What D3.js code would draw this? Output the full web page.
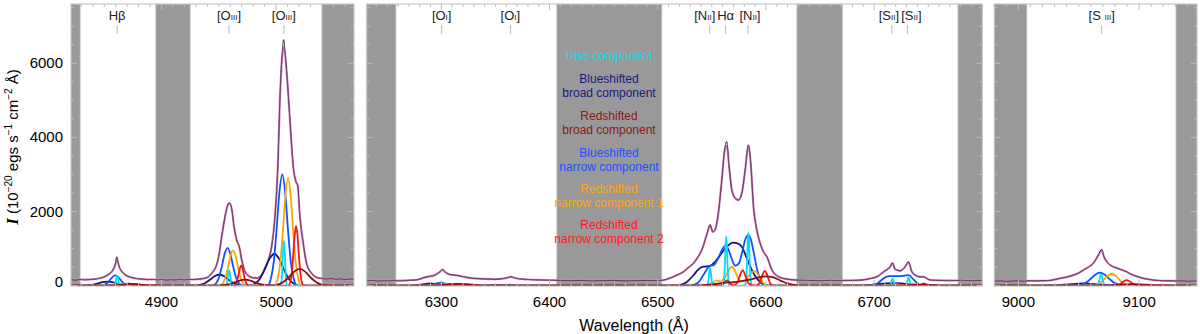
<!DOCTYPE html>
<html><head><meta charset="utf-8">
<script src="https://cdn.jsdelivr.net/npm/d3@7"></script>
<style>body{margin:0;background:#fff} svg{display:block} text{font-family:"Liberation Sans",Arial,Helvetica,sans-serif}</style>
</head><body>
<svg id="c" width="1200" height="334"></svg>
<script>
// ---------------- DATA ----------------
const yTickValues = [0, 2000, 4000, 6000];
const xTicks1 = [4900, 5000];
const xTicks2 = [6300, 6400, 6500, 6600, 6700];
const xTicks3 = [9000, 9100];

const masks1 = [[4821, 4829], [4895, 4925], [5040, 5068]];
const masks2 = [[6231, 6258], [6406.7, 6503.8], [6628.6, 6670.8], [6777.5, 6800]];
const masks3 = [[8980, 9007], [9130.6, 9148]];

const lineWaves1 = [4861.3, 4958.9, 5006.8];
const lineNames1 = [["Hβ", ""], ["[O", "III"], ["[O", "III"]];
const lineWaves2 = [6300.3, 6363.8, 6548.1, 6562.8, 6583.4, 6716.4, 6730.8];
const lineNames2 = [["[O", "I"], ["[O", "I"], ["[N", "II"], ["Hα", ""], ["[N", "II"], ["[S", "II"], ["[S", "II"]];
const lineWaves3 = [9069.0];
const lineNames3 = [["[S ", "III"]];

const legendLabels = [
  ["Disc component"],
  ["Blueshifted", "broad component"],
  ["Redshifted", "broad component"],
  ["Blueshifted", "narrow component"],
  ["Redshifted", "narrow component 1"],
  ["Redshifted", "narrow component 2"]
];

// Panel 1 (Hβ / [OIII])
const obs1 = [[4821,160],[4825,150],[4829,166],[4833,154],[4837,161],[4840,170],[4843,180],[4846,200],[4849,225],[4852,270],[4854,310],[4856,360],[4857.5,420],[4859,520],[4860,620],[4861,780],[4862,640],[4863,520],[4864.5,420],[4866,360],[4868,300],[4870,260],[4873,230],[4876,205],[4880,185],[4884,175],[4888,160],[4892,170],[4896,155],[4900,165],[4904,150],[4908,161],[4912,154],[4916,166],[4920,158],[4924,170],[4928,164],[4932,176],[4936,190],[4940,220],[4942.3,280],[4945,380],[4948,554],[4950,800],[4952.5,1320],[4955.4,1860],[4957.5,2150],[4959.2,2240],[4961.2,2085],[4963.3,1590],[4965.6,1230],[4967.9,1050],[4970,690],[4972.9,373],[4975,290],[4977.2,238],[4980,210],[4983,200],[4985,220],[4987.4,284],[4990.3,465],[4993.2,690],[4996.1,1050],[4999,1860],[5001.4,3120],[5003.4,5100],[5005.1,6180],[5006.6,6640],[5008.4,6100],[5009.8,5550],[5012.1,4470],[5015,3210],[5017.4,2800],[5018.8,2720],[5020.8,1860],[5023.7,1140],[5026.6,600],[5031,330],[5035.4,220],[5039.7,195],[5044,180],[5048,192],[5052,170],[5056,182],[5060,165],[5064,176],[5068,170]];
const model1 = [[4821,165],[4830,165],[4840,172],[4846,200],[4849,228],[4852,268],[4854,305],[4856,355],[4857.5,415],[4859,510],[4860,600],[4861,735],[4862,630],[4863,515],[4864.5,420],[4866,355],[4868,300],[4870,258],[4873,225],[4876,200],[4880,183],[4886,170],[4895,165],[4925,165],[4932,172],[4936,188],[4940,222],[4942.3,280],[4945,380],[4948,550],[4950,800],[4952.5,1310],[4955.4,1850],[4957.5,2140],[4959.2,2220],[4961.2,2080],[4963.3,1590],[4965.6,1230],[4967.9,1040],[4970,690],[4972.9,375],[4975,290],[4977.2,240],[4980,212],[4983,205],[4985,222],[4987.4,285],[4990.3,465],[4993.2,690],[4996.1,1050],[4999,1860],[5001.4,3110],[5003.4,5050],[5005.1,6100],[5006.6,6440],[5008.4,6080],[5009.8,5540],[5012.1,4460],[5015,3200],[5017.4,2800],[5018.8,2710],[5020.8,1860],[5023.7,1140],[5026.6,600],[5031,330],[5035.4,222],[5039.7,195],[5044,182],[5050,175],[5060,172],[5068,170]];
const disc1 = [[4821,0],[4858.1,0],[4859,16],[4859.6,55],[4860.1,130],[4860.7,218],[4861.3,260],[4861.9,218],[4862.5,130],[4863,55],[4863.6,16],[4864.5,0],[4955.8,0],[4956.7,26],[4957.3,88],[4957.8,210],[4958.4,353],[4959,420],[4959.6,353],[4960.2,210],[4960.7,88],[4961.3,26],[4962.2,0],[5003.6,0],[5004.5,76],[5005.1,254],[5005.6,605],[5006.2,1016],[5006.8,1210],[5007.4,1016],[5008,605],[5008.5,254],[5009.1,76],[5010,0],[5068,0]];
const bBroad1 = [[4821,0],[4830.6,0],[4835.6,7],[4839.9,23],[4844.1,55],[4848.4,92],[4852.6,110],[4856.9,92],[4861.1,55],[4865.4,23],[4869.6,7],[4874.6,0],[4928.4,0],[4933.4,19],[4937.7,63],[4941.9,150],[4946.2,252],[4950.4,300],[4954.7,252],[4958.9,150],[4963.2,63],[4967.4,19],[4972.4,0],[4976.4,0],[4981.4,54],[4985.7,181],[4989.9,430],[4994.2,722],[4998.4,860],[5002.7,722],[5006.9,430],[5011.2,181],[5015.4,54],[5020.4,0],[5068,0]];
const rBroad1 = [[4821,0],[4850,0],[4855.6,3],[4860.4,9],[4865.1,22],[4869.9,38],[4874.6,45],[4879.4,38],[4884.1,22],[4888.9,9],[4893.6,3],[4899,0],[4948,0],[4953.8,10],[4958.6,34],[4963.3,80],[4968,134],[4972.8,160],[4977.6,134],[4982.3,80],[4987,34],[4991.8,10],[4996.5,4],[5001.5,28],[5006.3,95],[5011,225],[5015.8,378],[5020.5,450],[5025.3,378],[5030,225],[5034.8,95],[5039.5,28],[5045,0],[5068,0]];
const bNarrow1 = [[4821,0],[4846.7,0],[4849.7,17],[4852.2,58],[4854.7,138],[4857.2,231],[4859.7,275],[4862.2,231],[4864.7,138],[4867.2,58],[4869.7,17],[4872.7,0],[4944.6,0],[4947.6,64],[4950.1,214],[4952.6,510],[4955.1,857],[4957.6,1020],[4960.1,857],[4962.6,510],[4965.1,214],[4967.6,64],[4970.6,0],[4992.4,0],[4995.4,188],[4997.9,630],[5000.4,1500],[5002.9,2520],[5005.4,3000],[5007.9,2520],[5010.4,1500],[5012.9,630],[5015.4,188],[5018.4,0],[5068,0]];
const rNarrowA1 = [[4821,0],[4852.9,0],[4855.6,3],[4857.8,9],[4860.1,22],[4862.4,38],[4864.6,45],[4866.9,38],[4869.1,22],[4871.4,9],[4873.6,3],[4876.3,0],[4950.7,0],[4953.4,59],[4955.6,200],[4957.9,475],[4960.2,798],[4962.4,950],[4964.7,798],[4966.9,475],[4969.2,200],[4971.4,59],[4974.1,0],[4998.7,0],[5001.4,182],[5003.6,611],[5005.9,1455],[5008.2,2444],[5010.4,2910],[5012.7,2444],[5014.9,1455],[5017.2,611],[5019.4,182],[5022.1,0],[5068,0]];
const rNarrowB1 = [[4821,0],[4865.1,0],[4866.6,4],[4867.9,13],[4869.1,30],[4870.4,50],[4871.6,60],[4872.9,50],[4874.1,30],[4875.4,13],[4876.6,4],[4878.1,0],[4963,0],[4964.5,34],[4965.8,114],[4967,272],[4968.3,458],[4969.5,545],[4970.8,458],[4972,272],[4973.3,114],[4974.5,34],[4976,0],[5010.9,0],[5012.4,101],[5013.7,338],[5014.9,805],[5016.2,1352],[5017.4,1610],[5018.7,1352],[5019.9,805],[5021.2,338],[5022.4,101],[5023.9,0],[5068,0]];

// Panel 2 ([OI] / Hα+[NII] / [SII])
const obs2 = [[6231,130],[6236,140],[6241,125],[6246,135],[6251,130],[6256,140],[6261,128],[6266,136],[6271,145],[6276,152],[6280,175],[6284,218],[6288,248],[6292,262],[6295,300],[6298,360],[6300,415],[6301.3,440],[6303,380],[6306,322],[6308,300],[6311,290],[6314,276],[6317,262],[6321,236],[6325,215],[6330,196],[6335,188],[6340,180],[6345,176],[6350,170],[6355,180],[6359,200],[6362,225],[6364.4,242],[6367,215],[6370,192],[6375,175],[6380,166],[6386,158],[6392,152],[6398,148],[6404,145],[6410,140],[6420,135],[6430,140],[6440,130],[6450,136],[6460,140],[6470,130],[6480,135],[6490,140],[6500,135],[6505,148],[6510,190],[6514.5,240],[6519,300],[6523.7,373],[6528,480],[6533,600],[6536,720],[6539.2,870],[6541.5,1020],[6543.8,1230],[6546,1450],[6548.4,1650],[6550.9,1450],[6553,1500],[6556,1950],[6559.2,2850],[6562.2,3750],[6563.8,3890],[6566,3210],[6568.5,2580],[6571.6,2360],[6574.6,2310],[6577.7,2490],[6580.8,3120],[6583.8,3800],[6586,3300],[6588.5,2130],[6591.6,1500],[6594.7,1140],[6597.7,915],[6600.9,780],[6605.5,420],[6611.6,240],[6619.4,175],[6628.6,150],[6640,140],[6650,135],[6660,142],[6670,135],[6680,140],[6688,150],[6693,170],[6698,200],[6702.6,240],[6708.7,373],[6714.9,510],[6717,617],[6719.5,440],[6724.1,400],[6728.7,510],[6731.8,645],[6734.9,373],[6739.6,257],[6743,235],[6745.7,240],[6749,190],[6752,152],[6760,140],[6770,135],[6780,142],[6790,135],[6800,140]];
const model2 = [[6231,135],[6260,135],[6271,145],[6276,152],[6280,175],[6284,215],[6288,245],[6292,262],[6295,298],[6298,355],[6300,405],[6301.3,425],[6303,378],[6306,322],[6308,300],[6311,288],[6314,275],[6317,260],[6321,236],[6325,215],[6330,196],[6335,186],[6340,180],[6345,175],[6350,172],[6355,180],[6359,198],[6362,222],[6364.4,236],[6367,214],[6370,192],[6375,176],[6380,165],[6390,155],[6404,145],[6505,145],[6510,190],[6514.5,240],[6519,300],[6523.7,373],[6528,480],[6533,600],[6536,720],[6539.2,870],[6541.5,1020],[6543.8,1230],[6546,1440],[6548.4,1620],[6550.9,1450],[6553,1500],[6556,1950],[6559.2,2840],[6562.2,3700],[6563.8,3770],[6566,3200],[6568.5,2580],[6571.6,2360],[6574.6,2310],[6577.7,2490],[6580.8,3110],[6583.8,3780],[6586,3290],[6588.5,2130],[6591.6,1500],[6594.7,1140],[6597.7,915],[6600.9,780],[6605.5,420],[6611.6,240],[6619.4,175],[6628.6,150],[6645,140],[6680,140],[6688,150],[6693,170],[6698,200],[6702.6,240],[6708.7,373],[6714.9,510],[6717,600],[6719.5,440],[6724.1,400],[6728.7,510],[6731.8,630],[6734.9,373],[6739.6,257],[6743,235],[6745.7,238],[6749,190],[6752,152],[6760,140],[6800,138]];
const disc2 = [[6231,0],[6297,0],[6298.5,10],[6300,30],[6301.5,10],[6303,0],[6545.4,0],[6546.1,28],[6546.7,99],[6547.3,235],[6547.8,395],[6548.4,470],[6549,395],[6549.5,235],[6550.1,99],[6550.7,28],[6551.4,0],[6560.3,0],[6561,80],[6561.6,280],[6562.2,665],[6562.7,1117],[6563.3,1330],[6563.9,1117],[6564.4,665],[6565,280],[6565.6,80],[6566.3,0],[6580.8,0],[6581.5,86],[6582.1,300],[6582.7,715],[6583.2,1200],[6583.8,1430],[6584.4,1200],[6584.9,715],[6585.5,300],[6586.1,86],[6586.8,0],[6714,0],[6714.7,11],[6715.3,38],[6715.9,90],[6716.4,151],[6717,180],[6717.6,151],[6718.1,90],[6718.7,38],[6719.3,11],[6720,0],[6728.8,0],[6729.5,13],[6730.1,46],[6730.7,110],[6731.2,185],[6731.8,220],[6732.4,185],[6732.9,110],[6733.5,46],[6734.1,13],[6734.8,0],[6800,0]];
const bBroad2 = [[6231,0],[6270,0],[6278,15],[6284,40],[6290,60],[6296,40],[6302,15],[6310,0],[6340,0],[6350,10],[6355,20],[6361,10],[6370,0],[6518,0],[6521,20],[6527,100],[6533,280],[6537.6,440],[6542.2,510],[6548.4,530],[6553,640],[6557.7,820],[6563.8,1050],[6570,1160],[6573.7,1140],[6577.7,1050],[6582.4,735],[6587,420],[6591.6,195],[6596.2,60],[6600,10],[6604,0],[6685,0],[6695,15],[6705,45],[6715,70],[6725,60],[6735,30],[6745,5],[6750,0],[6800,0]];
const rBroad2 = [[6231,0],[6290,0],[6300,15],[6308,40],[6316,50],[6324,40],[6332,15],[6342,0],[6535,0],[6550,30],[6560,70],[6567,90],[6575,110],[6585,160],[6593,220],[6600,250],[6607,220],[6614,130],[6620,60],[6627,15],[6635,0],[6720,0],[6735,15],[6745,25],[6755,10],[6765,0],[6800,0]];
const bNarrow2 = [[6231,0],[6285,0],[6290,15],[6294,45],[6299,80],[6304,45],[6308,15],[6313,0],[6355,0],[6360,15],[6363,25],[6366,15],[6371,0],[6530,0],[6535,40],[6538,100],[6543,330],[6548,530],[6552,560],[6556,750],[6560,1000],[6562.5,1080],[6565,1000],[6568,760],[6571.5,540],[6575,600],[6578,900],[6581,1250],[6583.5,1370],[6586,1250],[6589,850],[6592,420],[6595,170],[6598,40],[6601,0],[6693,0],[6700,30],[6704,80],[6708.7,195],[6713.4,257],[6718,257],[6724,257],[6728,270],[6731.8,284],[6736.4,167],[6741,40],[6745,0],[6800,0]];
const rNarrowA2 = [[6231,0],[6292,0],[6297,10],[6301,30],[6306,55],[6311,30],[6315,10],[6320,0],[6544,0],[6550,70],[6554.5,140],[6558,110],[6562,220],[6566,430],[6568.5,510],[6571,430],[6574,220],[6577,120],[6580,130],[6584,260],[6587,360],[6589.5,390],[6592,330],[6595,180],[6598,60],[6601,0],[6715,0],[6719,15],[6722,30],[6725,15],[6730,15],[6736,35],[6740,15],[6745,0],[6800,0]];
const rNarrowB2 = [[6231,0],[6308,0],[6311,10],[6313.5,25],[6316,40],[6318.5,25],[6321,10],[6324,0],[6558,0],[6561,60],[6564,140],[6567,60],[6570,10],[6573,60],[6576,270],[6578.5,420],[6581,270],[6584,60],[6587,10],[6591,5],[6594,60],[6596.5,270],[6599,400],[6601.5,260],[6604,60],[6607,0],[6728,0],[6730,10],[6732,20],[6734,10],[6738,0],[6740,0],[6743,15],[6746,60],[6749,15],[6752,0],[6800,0]];

// Panel 3 ([SIII])
const obs3 = [[8980,120],[8985,130],[8990,115],[8995,125],[9000,130],[9005,120],[9010,135],[9015,125],[9020,140],[9025,135],[9030,165],[9034.5,195],[9040,230],[9045.5,284],[9050,340],[9053.8,420],[9058,500],[9062,600],[9066.2,825],[9069,980],[9070.9,780],[9074.5,600],[9078.6,510],[9082,470],[9084.2,440],[9087,410],[9089.7,373],[9092,330],[9095.2,284],[9099,240],[9103.5,195],[9108,170],[9111.8,150],[9116,140],[9120,130],[9125,135],[9130,125],[9135,130],[9140,120],[9148,125]];
const model3 = [[8980,125],[9020,130],[9025,138],[9030,162],[9034.5,195],[9040,230],[9045.5,284],[9050,340],[9053.8,420],[9058,500],[9062,600],[9066.2,815],[9069,950],[9070.9,780],[9074.5,600],[9078.6,510],[9082,470],[9084.2,440],[9087,410],[9089.7,373],[9092,330],[9095.2,284],[9099,240],[9103.5,195],[9108,170],[9111.8,150],[9116,138],[9125,130],[9148,125]];
const disc3 = [[8980,0],[9064.5,0],[9065.5,19],[9066.3,63],[9067,150],[9067.8,252],[9068.5,300],[9069.2,252],[9070,150],[9070.7,63],[9071.5,19],[9072.5,0],[9148,0]];
const bBroad3 = [[8980,0],[9020,0],[9028,4],[9034,13],[9041,30],[9047,50],[9053,60],[9059,50],[9066,30],[9072,13],[9078,4],[9086,0],[9148,0]];
const rBroad3 = [[8980,0],[9062,0],[9070,3],[9076,8],[9083,20],[9089,34],[9095,40],[9101,34],[9108,20],[9114,8],[9120,3],[9128,0],[9148,0]];
const bNarrow3 = [[8980,0],[9046,0],[9051.6,22],[9055.6,74],[9059.6,175],[9063.6,294],[9067.6,350],[9071.6,294],[9075.6,175],[9079.6,74],[9083.6,22],[9089,0],[9148,0]];
const rNarrowA3 = [[8980,0],[9060,0],[9064.3,20],[9067.6,67],[9070.8,160],[9074.1,269],[9077.3,320],[9080.6,269],[9083.8,160],[9087.1,67],[9090.3,20],[9094.5,0],[9148,0]];
const rNarrowB3 = [[8980,0],[9079,0],[9081.7,9],[9083.7,32],[9085.7,75],[9087.7,126],[9089.7,150],[9091.7,126],[9093.7,75],[9095.7,32],[9097.7,9],[9100.5,0],[9148,0]];

// ---------------- STYLE / LAYOUT ----------------
const compColors = ["#00dcff", "#141482", "#8c0f0f", "#0a55ff", "#ffa500", "#ff1414"]; // disc, bBroad, rBroad, bNarrow, rN1, rN2
const drawOrder = [1, 3, 4, 0, 5, 2];
const legendColors = ["#14d8f0", "#1a1a80", "#8c1a1a", "#2050ff", "#ffa510", "#ff1a1a"];
const labelShift2 = [0, 0, -5, 0, 2, -3, 4];

const svg = d3.select("#c");
const TOP = 4, BOT = 286;
const y = d3.scaleLinear().domain([-10, 7600]).range([BOT, TOP]);

const panels = [
  {domain: [4821, 5068], range: [71, 354], obs: obs1, model: model1, comps: [disc1, bBroad1, rBroad1, bNarrow1, rNarrowA1, rNarrowB1], masks: masks1, ticks: xTicks1, waves: lineWaves1, names: lineNames1, shift: null},
  {domain: [6231, 6800], range: [366.7, 982.3], obs: obs2, model: model2, comps: [disc2, bBroad2, rBroad2, bNarrow2, rNarrowA2, rNarrowB2], masks: masks2, ticks: xTicks2, waves: lineWaves2, names: lineNames2, shift: labelShift2},
  {domain: [8980, 9148], range: [994.3, 1197], obs: obs3, model: model3, comps: [disc3, bBroad3, rBroad3, bNarrow3, rNarrowA3, rNarrowB3], masks: masks3, ticks: xTicks3, waves: lineWaves3, names: lineNames3, shift: null}
];

const frameColor = "#bdbdbd";

panels.forEach((p, i) => {
  const x = d3.scaleLinear().domain(p.domain).range(p.range);
  const g = svg.append("g");
  const clipId = "clip" + i;
  svg.append("defs").append("clipPath").attr("id", clipId)
    .append("rect").attr("x", p.range[0]).attr("y", TOP).attr("width", p.range[1] - p.range[0]).attr("height", BOT - TOP);

  const inner = g.append("g").attr("clip-path", `url(#${clipId})`);
  inner.selectAll("rect.mask").data(p.masks).join("rect")
    .attr("x", d => x(d[0])).attr("width", d => x(d[1]) - x(d[0]))
    .attr("y", TOP).attr("height", BOT - TOP)
    .attr("fill", "#999999").attr("stroke", "#c8c8c8").attr("stroke-width", 0.8);

  const line = d3.line().x(d => x(d[0])).y(d => y(d[1])).curve(d3.curveMonotoneX);
  inner.append("path").attr("d", line(p.model)).attr("fill", "none")
    .attr("stroke", "#d38cc6").attr("stroke-width", 2.2);
  inner.append("path").attr("d", line(p.obs)).attr("fill", "none")
    .attr("stroke", "#1a0a18").attr("stroke-width", 0.8);
  inner.append("path").attr("d", line(p.model)).attr("fill", "none")
    .attr("stroke", "#b86aa8").attr("stroke-width", 0.6).attr("stroke-opacity", 0.7);
  drawOrder.forEach(k => {
    inner.append("path").attr("d", line(p.comps[k])).attr("fill", "none")
      .attr("stroke", compColors[k]).attr("stroke-width", 1.8).attr("stroke-linejoin", "round");
  });

  g.append("rect").attr("x", p.range[0]).attr("y", TOP).attr("width", p.range[1] - p.range[0]).attr("height", BOT - TOP)
    .attr("fill", "none").attr("stroke", frameColor).attr("stroke-width", 1);

  const xt = d3.range(Math.ceil(p.domain[0] / 10) * 10, p.domain[1] + 0.01, 10);
  xt.forEach(v => {
    const len = (v % 100 === 0) ? 6 : 3;
    const px = x(v);
    g.append("line").attr("x1", px).attr("x2", px).attr("y1", BOT).attr("y2", BOT - len).attr("stroke", frameColor);
    g.append("line").attr("x1", px).attr("x2", px).attr("y1", TOP).attr("y2", TOP + len).attr("stroke", frameColor);
  });
  d3.range(0, 7600, 500).forEach(v => {
    const len = (v % 2000 === 0) ? 6 : 3;
    const py = y(v);
    g.append("line").attr("x1", p.range[0]).attr("x2", p.range[0] + len).attr("y1", py).attr("y2", py).attr("stroke", frameColor);
    g.append("line").attr("x1", p.range[1]).attr("x2", p.range[1] - len).attr("y1", py).attr("y2", py).attr("stroke", frameColor);
  });
  g.selectAll("text.xl").data(p.ticks).join("text")
    .attr("x", d => x(d)).attr("y", 307).attr("text-anchor", "middle")
    .attr("font-size", 15).attr("fill", "#000").text(d => d);

  p.waves.forEach((w, j) => {
    const px = x(w);
    const dx = p.shift ? p.shift[j] : 0;
    g.append("line").attr("x1", px).attr("x2", px).attr("y1", 25).attr("y2", 34)
      .attr("stroke", "#bbbbbb").attr("stroke-width", 1);
    const t = g.append("text").attr("x", px + dx).attr("y", 20).attr("text-anchor", "middle")
      .attr("font-size", 13).attr("fill", "#222");
    const nm = p.names[j];
    t.append("tspan").text(nm[0]);
    if (nm[1]) {
      t.append("tspan").attr("font-size", 8).text(nm[1]);
      t.append("tspan").text("]");
    }
  });
});

const x0 = panels[0].range[0];
svg.selectAll("text.yl").data(yTickValues).join("text")
  .attr("x", x0 - 8).attr("y", d => y(d) + (d === 0 ? 1 : 5))
  .attr("text-anchor", "end").attr("font-size", 15).attr("fill", "#000").text(d => d);

const yt = svg.append("text").attr("transform", "translate(18,147) rotate(-90)")
  .attr("text-anchor", "middle").attr("font-size", 15).attr("fill", "#000");
yt.append("tspan").attr("font-family", "'Liberation Serif','DejaVu Serif',serif").attr("font-weight", "bold").attr("font-style", "italic").attr("font-size", 17).text("I");
yt.append("tspan").text(" (10");
yt.append("tspan").attr("font-size", 10).attr("dy", -6).text("−20");
yt.append("tspan").attr("dy", 6).text(" egs s");
yt.append("tspan").attr("font-size", 10).attr("dy", -6).text("−1");
yt.append("tspan").attr("dy", 6).text(" cm");
yt.append("tspan").attr("font-size", 10).attr("dy", -6).text("−2");
yt.append("tspan").attr("dy", 6).text(" Å)");

svg.append("text").attr("x", 634).attr("y", 331).attr("text-anchor", "middle")
  .attr("font-size", 16).attr("fill", "#000").text("Wavelength (Å)");

const legX = 609;
const legStarts = [56, 79, 115.7, 152.3, 189, 225];
legendLabels.forEach((lines, i) => {
  lines.forEach((s, j) => {
    svg.append("text").attr("x", legX).attr("y", legStarts[i] + j * 14 + 4.3)
      .attr("text-anchor", "middle").attr("font-size", 12).attr("fill", legendColors[i]).text(s);
  });
});
</script>
</body></html>
